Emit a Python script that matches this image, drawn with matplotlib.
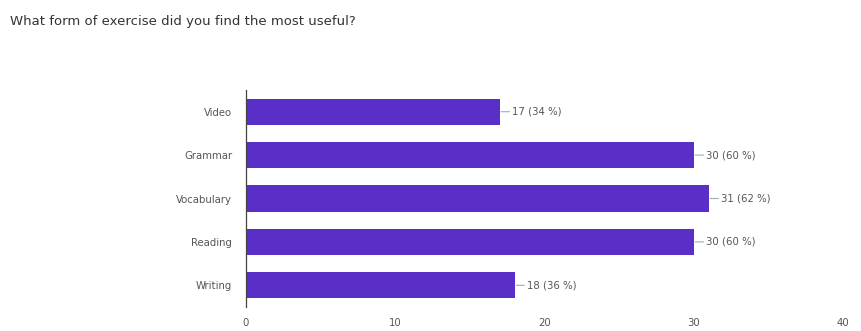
import matplotlib
matplotlib.use("Agg")
import matplotlib.pyplot as plt

# survey answers (Google Forms style summary)
title = "What form of exercise did you find the most useful?"
categories = ["Video", "Grammar", "Vocabulary", "Reading", "Writing"]
counts = [17, 30, 31, 30, 18]
percents = [34, 60, 62, 60, 36]
xticks = [0, 10, 20, 30, 40]

bar_color = "#5a2fc8"
text_gray = "#555555"

fig = plt.figure(figsize=(8.61, 3.31), dpi=100)
fig.text(10 / 861, 1 - 22 / 331, title, fontsize=9.5, color="#333333",
         va="center", ha="left")

ax = fig.add_axes([246 / 861, 1 - 307 / 331, (843 - 246) / 861, (307 - 90) / 331])
ypos = list(range(len(categories)))
ax.barh(ypos, counts, height=0.6, color=bar_color)

for y, c, p in zip(ypos, counts, percents):
    ax.annotate(f"{c} ({p} %)", xy=(c, y), xytext=(9, 0), textcoords="offset points",
                va="center", ha="left", fontsize=7.3, color=text_gray,
                arrowprops=dict(arrowstyle="-", color="#aaaaaa", lw=0.8,
                                shrinkA=0, shrinkB=1))

ax.set_xlim(0, 40)
ax.set_ylim(len(categories) - 0.5, -0.5)
ax.set_yticks(ypos)
ax.set_yticklabels(categories, fontsize=7.3, color=text_gray)
ax.set_xticks(xticks)
ax.set_xticklabels([str(t) for t in xticks], fontsize=7.3, color=text_gray)
ax.tick_params(axis="both", length=0)
ax.tick_params(axis="y", pad=10)
ax.tick_params(axis="x", pad=8)

for s in ["top", "right", "bottom"]:
    ax.spines[s].set_visible(False)
ax.spines["left"].set_color("#444444")
ax.spines["left"].set_linewidth(0.9)

fig.savefig("out.png", dpi=100)
